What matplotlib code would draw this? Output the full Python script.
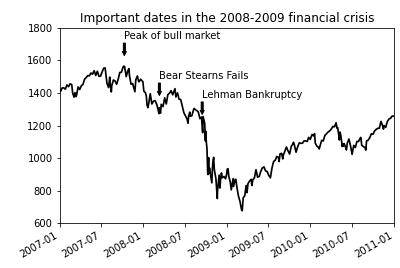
import matplotlib
matplotlib.use("Agg")
import matplotlib.pyplot as plt
import matplotlib.dates as mdates
import pandas as pd

spx_2007 = [("2007-01-03",1417),("2007-01-05",1409),("2007-01-12",1430),("2007-01-19",1431),("2007-01-26",1423),
    ("2007-02-02",1449),("2007-02-09",1438),("2007-02-16",1456),("2007-02-23",1451),("2007-02-27",1400),
    ("2007-03-02",1387),("2007-03-05",1374),("2007-03-09",1402),("2007-03-14",1377),("2007-03-16",1386),
    ("2007-03-23",1437),("2007-03-30",1421),("2007-04-06",1444),("2007-04-13",1452),("2007-04-20",1484),
    ("2007-04-27",1494),("2007-05-04",1506),("2007-05-11",1505),("2007-05-18",1522),("2007-05-25",1515),
    ("2007-06-01",1536),("2007-06-08",1507),("2007-06-15",1533),("2007-06-22",1502),("2007-06-29",1503),
    ("2007-07-06",1530),("2007-07-13",1552),("2007-07-19",1553),("2007-07-27",1458),("2007-08-03",1433),
    ("2007-08-08",1497),("2007-08-10",1453),("2007-08-15",1406),("2007-08-17",1445),("2007-08-24",1479),
    ("2007-08-31",1474),("2007-09-07",1453),("2007-09-14",1484),("2007-09-21",1525),("2007-09-28",1527),
    ("2007-10-05",1557),("2007-10-09",1565),("2007-10-12",1561),("2007-10-19",1500),("2007-10-26",1535),
    ("2007-10-31",1549),("2007-11-02",1509),("2007-11-09",1453),("2007-11-16",1458),("2007-11-26",1407),
    ("2007-11-30",1481),("2007-12-07",1504),("2007-12-11",1477),("2007-12-14",1468),("2007-12-21",1484),
    ("2007-12-31",1468)]

spx_2008 = [("2008-01-04",1411),("2008-01-11",1401),("2008-01-15",1380),("2008-01-18",1325),("2008-01-22",1310),
    ("2008-01-25",1331),("2008-02-01",1395),("2008-02-08",1332),("2008-02-15",1349),("2008-02-22",1353),
    ("2008-02-29",1331),("2008-03-07",1294),("2008-03-10",1273),("2008-03-12",1309),("2008-03-14",1288),
    ("2008-03-17",1276),("2008-03-20",1330),("2008-03-28",1316),("2008-04-04",1370),("2008-04-11",1332),
    ("2008-04-18",1390),("2008-04-25",1398),("2008-05-02",1414),("2008-05-09",1388),("2008-05-19",1426),
    ("2008-05-23",1375),("2008-05-30",1400),("2008-06-06",1361),("2008-06-13",1360),("2008-06-20",1318),
    ("2008-06-27",1278),("2008-07-03",1262),("2008-07-11",1239),("2008-07-15",1214),("2008-07-18",1261),
    ("2008-07-23",1282),("2008-07-25",1257),("2008-08-01",1260),("2008-08-08",1296),("2008-08-11",1305),
    ("2008-08-15",1298),("2008-08-22",1292),("2008-08-29",1283),("2008-09-05",1242),("2008-09-12",1252),
    ("2008-09-15",1193),("2008-09-17",1156),("2008-09-19",1255),("2008-09-26",1213),("2008-09-29",1106),
    ("2008-09-30",1166),("2008-10-03",1099),("2008-10-06",1056),("2008-10-09",910),("2008-10-10",899),
    ("2008-10-13",1003),("2008-10-15",908),("2008-10-17",940),("2008-10-22",896),("2008-10-24",877),
    ("2008-10-27",848),("2008-10-31",968),("2008-11-04",1005),("2008-11-07",930),("2008-11-14",873),
    ("2008-11-20",752),("2008-11-21",800),("2008-11-28",896),("2008-12-01",816),("2008-12-05",876),
    ("2008-12-08",909),("2008-12-12",879),("2008-12-19",887),("2008-12-26",873),("2008-12-31",903)]

spx_2009 = [("2009-01-02",931),("2009-01-06",935),("2009-01-09",890),("2009-01-16",850),("2009-01-20",805),
    ("2009-01-23",832),("2009-01-28",874),("2009-01-30",826),("2009-02-06",869),("2009-02-09",870),
    ("2009-02-13",827),("2009-02-20",770),("2009-02-27",735),("2009-03-06",683),("2009-03-09",677),
    ("2009-03-13",756),("2009-03-20",769),("2009-03-26",832),("2009-03-30",788),("2009-04-03",843),
    ("2009-04-09",857),("2009-04-17",870),("2009-04-20",832),("2009-04-24",866),("2009-05-01",878),
    ("2009-05-08",929),("2009-05-15",883),("2009-05-22",887),("2009-05-29",919),("2009-06-05",940),
    ("2009-06-12",946),("2009-06-19",921),("2009-06-26",918),("2009-07-02",896),("2009-07-10",879),
    ("2009-07-17",940),("2009-07-24",979),("2009-07-31",987),("2009-08-07",1010),("2009-08-14",1005),
    ("2009-08-17",979),("2009-08-21",1026),("2009-08-28",1029),("2009-09-02",995),("2009-09-04",1016),
    ("2009-09-11",1042),("2009-09-18",1068),("2009-09-25",1044),("2009-10-02",1025),("2009-10-09",1071),
    ("2009-10-16",1087),("2009-10-19",1097),("2009-10-23",1079),("2009-10-30",1036),("2009-11-06",1069),
    ("2009-11-13",1093),("2009-11-20",1091),("2009-11-27",1091),("2009-12-04",1106),("2009-12-11",1106),
    ("2009-12-18",1102),("2009-12-24",1127),("2009-12-31",1115)]

spx_2010 = [("2010-01-08",1145),("2010-01-15",1136),("2010-01-19",1150),("2010-01-22",1092),("2010-01-29",1074),
    ("2010-02-05",1066),("2010-02-08",1056),("2010-02-12",1075),("2010-02-19",1109),("2010-02-26",1105),
    ("2010-03-05",1139),("2010-03-12",1150),("2010-03-19",1160),("2010-03-26",1167),("2010-04-02",1178),
    ("2010-04-09",1194),("2010-04-16",1192),("2010-04-23",1217),("2010-04-27",1183),("2010-04-30",1187),
    ("2010-05-06",1128),("2010-05-07",1111),("2010-05-10",1160),("2010-05-14",1136),("2010-05-20",1071),
    ("2010-05-21",1088),("2010-05-25",1074),("2010-05-28",1089),("2010-06-04",1065),("2010-06-07",1050),
    ("2010-06-11",1092),("2010-06-18",1117),("2010-06-25",1076),("2010-07-02",1023),("2010-07-09",1078),
    ("2010-07-16",1065),("2010-07-23",1102),("2010-07-30",1102),("2010-08-06",1122),("2010-08-09",1127),
    ("2010-08-13",1079),("2010-08-20",1071),("2010-08-27",1065),("2010-08-31",1049),("2010-09-03",1105),
    ("2010-09-10",1110),("2010-09-17",1125),("2010-09-24",1149),("2010-10-01",1146),("2010-10-08",1166),
    ("2010-10-15",1176),("2010-10-22",1183),("2010-10-29",1183),("2010-11-05",1225),("2010-11-12",1200),
    ("2010-11-16",1178),("2010-11-19",1199),("2010-11-26",1189),("2010-12-03",1225),("2010-12-10",1240),
    ("2010-12-17",1244),("2010-12-23",1257),("2010-12-31",1258)]

crisis_dates = ["2007-10-11", "2008-03-12", "2008-09-15"]
crisis_labels = ["Peak of bull market", "Bear Stearns Fails", "Lehman Bankruptcy"]
crisis_levels = [1554, 1309, 1193]

rows = spx_2007 + spx_2008 + spx_2009 + spx_2010
spx = pd.Series([v for _, v in rows], index=pd.to_datetime([d for d, _ in rows]))

DPI = 72
fig = plt.figure(figsize=(400 / DPI, 268 / DPI), dpi=DPI)
ax = fig.add_subplot(1, 1, 1)
ax.plot(spx.index, spx.values, 'k-', lw=1.7)

for d, label, lvl in zip(crisis_dates, crisis_labels, crisis_levels):
    dt = pd.Timestamp(d)
    ax.annotate(label, xy=(dt, lvl + 75), xytext=(dt, lvl + 225),
                arrowprops=dict(facecolor='black', headwidth=4, width=2, headlength=4),
                horizontalalignment='left', verticalalignment='top')

ax.set_xlim(pd.Timestamp("2007-01-01"), pd.Timestamp("2011-01-01"))
ax.set_ylim(600, 1800)
ax.set_yticks(range(600, 1801, 200))
ax.xaxis.set_major_locator(mdates.MonthLocator(bymonth=[1, 7]))
ax.xaxis.set_major_formatter(mdates.DateFormatter('%Y-%m'))
ax.set_title('Important dates in the 2008-2009 financial crisis')
for lbl in ax.get_xticklabels():
    lbl.set_rotation(30)
    lbl.set_ha('right')
ax.set_position([0.149, 0.1668, 0.836, 0.7298])
fig.savefig("out.png", dpi=DPI)
